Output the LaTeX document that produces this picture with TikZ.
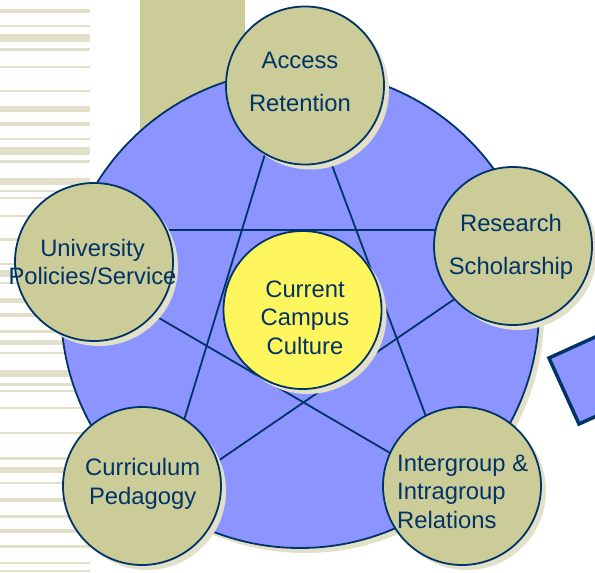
\documentclass[tikz,border=0pt]{standalone}
\usepackage{fontspec}
\setmainfont{Liberation Sans}
\usepackage{tikz}
\usetikzlibrary{shadows}
\definecolor{khaki}{RGB}{204,204,153}
\definecolor{palekhaki}{RGB}{226,224,200}
\definecolor{ringblue}{RGB}{140,148,255}
\definecolor{navy}{RGB}{0,51,102}
\definecolor{campusyellow}{RGB}{255,246,94}
\tikzset{
 topic/.style={shape=circle, draw=navy, line width=1.8pt, fill=khaki, minimum size=158pt, inner sep=0pt,
   drop shadow={shadow xshift=5pt, shadow yshift=-5pt, fill=palekhaki, opacity=1}},
 topictext/.style={text=navy, font=\fontsize{23.8}{28.6}\selectfont, align=center, inner sep=0pt},
 spoke/.style={draw=navy, line width=1.8pt}
}

\begin{document}
\begin{tikzpicture}[x=1pt, y=-1pt]
\useasboundingbox (0,0) rectangle (595,573);
\clip (0,0) rectangle (595,573);
\foreach \a/\b in {9/13, 25/27, 34/42, 48/51, 66/68, 90/92, 106/112, 122/126, 138/140, 147/155,
  160/163, 178/185, 190/192, 197/199, 215/217, 238/241, 263/265, 270/277, 282/284, 298/303,
  313/317, 330/333, 340/345, 352/354, 370/377, 383/386, 390/392, 407/409, 432/434, 457/460,
  467/473, 482/484, 498/502, 515/518, 529/533, 545/548, 562/564, 570/572}
 { \fill[palekhaki] (0,\a) rectangle (90,\b) ; }
\fill[khaki] (140,0) rectangle (245,200) ;

\node[topic, fill=ringblue, minimum size=478pt] (ring) at (300,309) {} ;

% star lines, ends hidden under the circles
\coordinate (acc-a) at (286,85) ;   \coordinate (cur-a) at (164,486) ;
\coordinate (acc-b) at (302,85) ;   \coordinate (int-b) at (452,486) ;
\coordinate (uni-c) at (94,230) ;   \coordinate (res-c) at (513,230) ;
\coordinate (uni-d) at (94,280) ;   \coordinate (int-d) at (462,495) ;
\coordinate (res-e) at (513,259) ;  \coordinate (cur-e) at (142,513) ;
\foreach \s/\t in {acc-a/cur-a, acc-b/int-b, uni-c/res-c, uni-d/int-d, res-e/cur-e}
 { \draw[spoke] (\s) -- (\t) ; }

\node[topic] (access) at (305,85.5) {} ;
\node[topic] (research) at (513,246) {} ;
\node[topic] (university) at (94,262) {} ;
\node[topic] (curriculum) at (142,486) {} ;
\node[topic] (intergroup) at (462,486) {} ;
\node[topic, fill=campusyellow] (culture) at (302.5,310) {} ;

\node[topictext] (access-t) at (300,82) {Access\\[13.8pt]Retention} ;
\node[topictext] (research-t) at (511,247) {Research\\[14pt]Scholarship} ;
\node[topictext] (university-t) at (92.5,262) {University\\Policies/Service} ;
\node[topictext] (curriculum-t) at (142.7,483.7) {Curriculum\\Pedagogy} ;
\node[topictext] (culture-t) at (305,317.7) {Current\\Campus\\Culture} ;
\node[topictext, align=left, anchor=west] (intergroup-t) at (397,491.7) {Intergroup \&\\Intragroup\\Relations} ;

\draw[navy, line width=3.5pt, fill=ringblue] (549,358) -- ++(30,66) -- ++(66,-30) -- ++(-30,-66) -- cycle ;
\end{tikzpicture}
\end{document}
